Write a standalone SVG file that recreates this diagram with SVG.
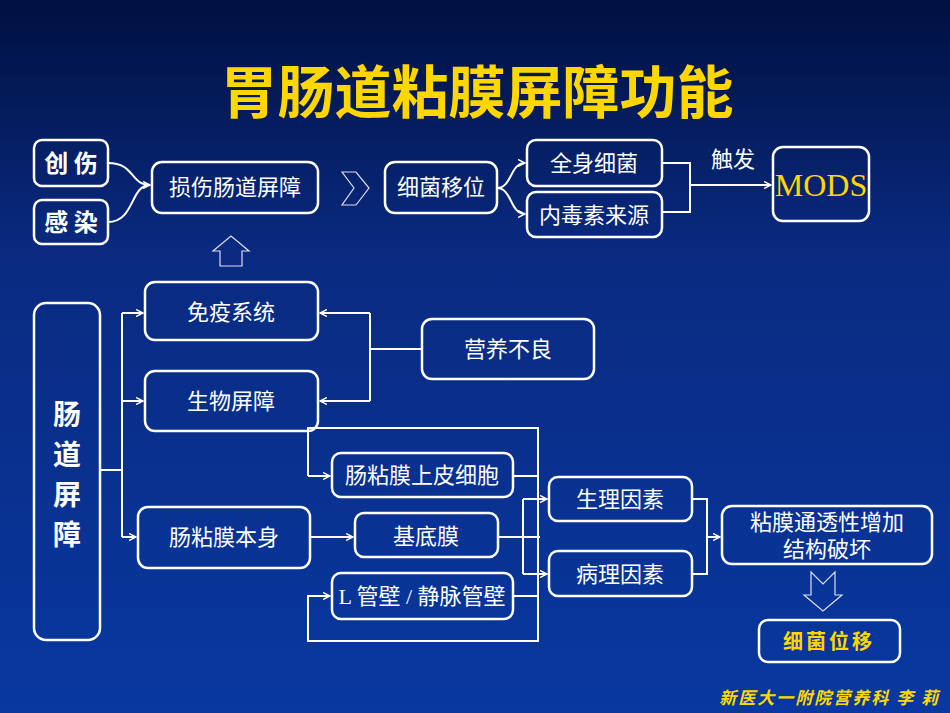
<svg xmlns="http://www.w3.org/2000/svg" width="950" height="713" viewBox="0 0 950 713">
<defs>
<linearGradient id="bg" x1="0" y1="0" x2="0" y2="1">
<stop offset="0" stop-color="#001040"/><stop offset="0.35" stop-color="#0a2a80"/><stop offset="1" stop-color="#0838a0"/>
</linearGradient>
<marker id="ar" markerWidth="8" markerHeight="8" refX="7" refY="4" orient="auto" markerUnits="userSpaceOnUse"><path d="M0,0.5 L7,4 L0,7.5" fill="none" stroke="#fff" stroke-width="1.5"/></marker>
<style>
.b{fill:none;stroke:#fff;stroke-width:2.5}
.t{fill:#fff;font-family:"Liberation Serif","Noto Sans CJK SC",serif;font-size:22px;text-anchor:middle}
.k{fill:#fff;font-family:"Noto Sans CJK SC",sans-serif;font-weight:bold;font-size:24px;text-anchor:middle}
.c{fill:none;stroke:#fff;stroke-width:2}
.h{fill:none;stroke:#dde;stroke-width:1.2}
</style>
</defs>
<rect width="950" height="713" fill="url(#bg)"/>
<text x="477" y="113" style="fill:#ffd700;font-family:'Noto Sans CJK SC',sans-serif;font-weight:bold;font-size:57px;text-anchor:middle">胃肠道粘膜屏障功能</text>
<g id="n1"><rect class="b" x="34" y="140" width="74" height="46" rx="8"/><text class="k" x="71" y="172">创 伤</text></g>
<g id="n2"><rect class="b" x="34" y="200" width="74" height="44" rx="8"/><text class="k" x="71" y="231">感 染</text></g>
<g id="n3"><rect class="b" x="152" y="162" width="166" height="51" rx="10"/><text class="t" x="235" y="195">损伤肠道屏障</text></g>
<g id="n4"><rect class="b" x="385" y="162" width="112" height="51" rx="10"/><text class="t" x="441" y="195">细菌移位</text></g>
<g id="n5"><rect class="b" x="527" y="140" width="135" height="46" rx="9"/><text class="t" x="594" y="171">全身细菌</text></g>
<g id="n6"><rect class="b" x="527" y="192" width="135" height="45" rx="9"/><text class="t" x="594" y="223">内毒素来源</text></g>
<g id="n7"><rect class="b" x="773" y="147" width="96" height="74" rx="10"/><text x="821" y="196" style="fill:#ffd700;font-family:'Liberation Serif',serif;font-size:32px;text-anchor:middle">MODS</text></g>
<g id="n8"><rect class="b" x="34" y="303" width="66" height="337" rx="12"/><text class="k" x="67" y="425" style="font-size:28px">肠</text><text class="k" x="67" y="465" style="font-size:28px">道</text><text class="k" x="67" y="505" style="font-size:28px">屏</text><text class="k" x="67" y="545" style="font-size:28px">障</text></g>
<g id="n9"><rect class="b" x="145" y="282" width="173" height="58" rx="10"/><text class="t" x="231" y="320">免疫系统</text></g>
<g id="n10"><rect class="b" x="145" y="371" width="173" height="60" rx="10"/><text class="t" x="231" y="409">生物屏障</text></g>
<g id="n11"><rect class="b" x="422" y="319" width="172" height="60" rx="10"/><text class="t" x="508" y="357">营养不良</text></g>
<g id="n12"><rect class="b" x="138" y="507" width="172" height="61" rx="10"/><text class="t" x="224" y="545">肠粘膜本身</text></g>
<g id="n13"><rect class="b" x="332" y="453" width="181" height="44" rx="9"/><text class="t" x="422" y="483">肠粘膜上皮细胞</text></g>
<g id="n14"><rect class="b" x="355" y="513" width="143" height="44" rx="9"/><text class="t" x="426" y="544">基底膜</text></g>
<g id="n15"><rect class="b" x="332" y="573" width="181" height="46" rx="9"/><text class="t" x="422" y="604">L 管壁 / 静脉管壁</text></g>
<g id="n16"><rect class="b" x="549" y="477" width="143" height="44" rx="9"/><text class="t" x="620" y="507">生理因素</text></g>
<g id="n17"><rect class="b" x="549" y="551" width="143" height="45" rx="9"/><text class="t" x="620" y="582">病理因素</text></g>
<g id="n18"><rect class="b" x="722" y="506" width="210" height="58" rx="10"/><text class="t" x="827" y="530">粘膜通透性增加</text><text class="t" x="827" y="557">结构破坏</text></g>
<g id="n19"><rect class="b" x="759" y="620" width="141" height="42" rx="9"/><text x="829" y="649" style="fill:#ffd700;font-family:'Noto Sans CJK SC',sans-serif;font-weight:bold;font-size:20px;text-anchor:middle;letter-spacing:3px">细菌位移</text></g>
<g id="connectors">
<path class="c" d="M108,163 C135,163 130,185 150,185" marker-end="url(#ar)"/>
<path class="c" d="M108,222 C135,222 130,185 150,185"/>
<path class="h" d="M342,172 L356,172 L369,188 L356,205 L342,205 L354,188 Z"/>
<path class="h" d="M213,251 L231,236 L249,251 L242,251 L242,266 L220,266 L220,251 Z"/>
<path class="c" d="M497,188 C512,188 510,163 525,163" marker-end="url(#ar)"/>
<path class="c" d="M497,188 C512,188 510,214 525,214" marker-end="url(#ar)"/>
<path class="c" d="M662,163 H690 V212 H662 M690,185 H771" marker-end="url(#ar)"/>
<text class="t" x="733" y="167">触发</text>
<path class="c" d="M100,470 H122 M122,313 V537"/>
<path class="c" d="M122,313 H143" marker-end="url(#ar)"/>
<path class="c" d="M122,401 H143" marker-end="url(#ar)"/>
<path class="c" d="M122,537 H136" marker-end="url(#ar)"/>
<path class="c" d="M422,349 H370 M370,313 V401"/>
<path class="c" d="M370,313 H320" marker-end="url(#ar)"/>
<path class="c" d="M370,401 H320" marker-end="url(#ar)"/>
<path class="c" d="M308,476 V428 H538 V641 H308 V596 H330" marker-end="url(#ar)"/>
<path class="c" d="M308,476 H330" marker-end="url(#ar)"/>
<path class="c" d="M310,537 H353" marker-end="url(#ar)"/>
<path class="c" d="M498,537 H540 M513,476 H538 M513,596 H538"/>
<path class="c" d="M523,499 V574"/>
<path class="c" d="M523,499 H547" marker-end="url(#ar)"/>
<path class="c" d="M523,574 H547" marker-end="url(#ar)"/>
<path class="c" d="M692,499 H707 V574 H692 M707,537 H720" marker-end="url(#ar)"/>
<path class="h" d="M811,572 L811,595 L804,595 L823,611 L842,595 L835,595 L835,572 L823,584 Z"/>
</g>
<text x="940" y="704" style="fill:#ffd700;font-family:'Noto Sans CJK SC',sans-serif;font-weight:bold;font-style:italic;font-size:17px;text-anchor:end;letter-spacing:2px">新医大一附院营养科 李 莉</text>
</svg>
